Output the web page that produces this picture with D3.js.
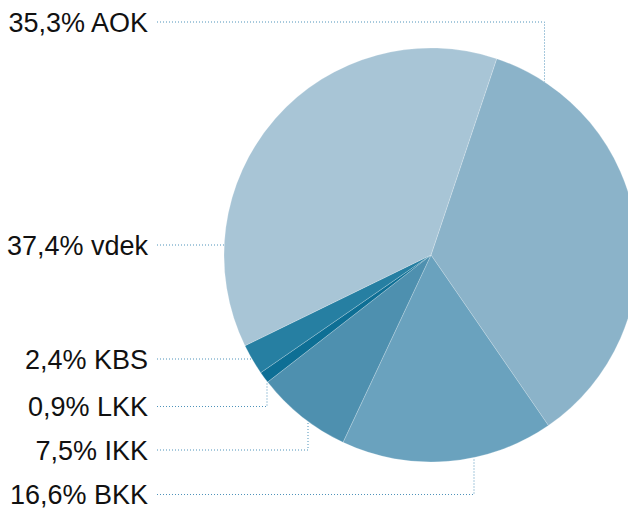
<!DOCTYPE html>
<meta charset="utf-8">
<script src="https://d3js.org/d3.v7.min.js"></script>
<style>
  body { margin: 0; background: #fff; }
  text { font-family: "Liberation Sans", Arial, sans-serif; }
</style>
<div id="chart"></div>
<script>
// data: market share by Kassenart, clockwise from the top
var kassen = ["AOK", "BKK", "IKK", "LKK", "KBS", "vdek"];
var anteil = [35.3, 16.6, 7.5, 0.9, 2.4, 37.4];
var farben = ["#8bb3c9", "#6aa2be", "#4e90af", "#0e6f95", "#267fa2", "#a8c5d6"];

// label layout: y of the leader line, x of the elbow (null = straight to the pie)
var labelY = [22, 494.5, 450, 406.5, 359, 245];
var elbowX = [544.5, 474, 308, 267, null, null];

var width = 628, height = 508;
var cx = 431, cy = 255, r = 207;
var textRight = 148, lineStart = 157;

var svg = d3.select("#chart").append("svg")
  .attr("width", width)
  .attr("height", height);

var data = kassen.map(function(k, i) {
  return {name: k, value: anteil[i], color: farben[i], ly: labelY[i], ex: elbowX[i]};
});

var start = 18.5 * Math.PI / 180;
var pie = d3.pie()
  .sort(null)
  .value(function(d) { return d.value; })
  .startAngle(start)
  .endAngle(start + 2 * Math.PI);

var arc = d3.arc().innerRadius(0).outerRadius(r);

var g = svg.append("g")
  .attr("transform", "translate(" + cx + "," + cy + ")");

g.selectAll("path")
  .data(pie(data))
  .enter()
  .append("path")
    .attr("d", arc)
    .attr("fill", function(d) { return d.data.color; })
    .attr("stroke", "rgba(255,255,255,0.35)")
    .attr("stroke-width", 0.6);

// leader lines + labels
var fmt = function(v) { return d3.format(".1f")(v).replace(".", ",") + "% "; };

data.forEach(function(d) {
  var pts;
  if (d.ex === null) {
    var dy = d.ly - cy;
    var x = cx - Math.sqrt(r * r - dy * dy);
    pts = [[lineStart, d.ly], [x, d.ly]];
  } else {
    var dx = d.ex - cx;
    var h = Math.sqrt(r * r - dx * dx);
    var y = d.ly < cy ? cy - h : cy + h;
    pts = [[lineStart, d.ly], [d.ex, d.ly], [d.ex, y]];
  }
  svg.append("path")
    .attr("d", d3.line()(pts))
    .attr("fill", "none")
    .attr("stroke", "#4f93ba")
    .attr("stroke-width", 1)
    .attr("stroke-dasharray", "1,2");

  svg.append("text")
    .attr("x", textRight)
    .attr("y", d.ly + 9.7)
    .attr("text-anchor", "end")
    .attr("font-size", 27)
    .attr("fill", "#111")
    .text(fmt(d.value) + d.name);
});
</script>
